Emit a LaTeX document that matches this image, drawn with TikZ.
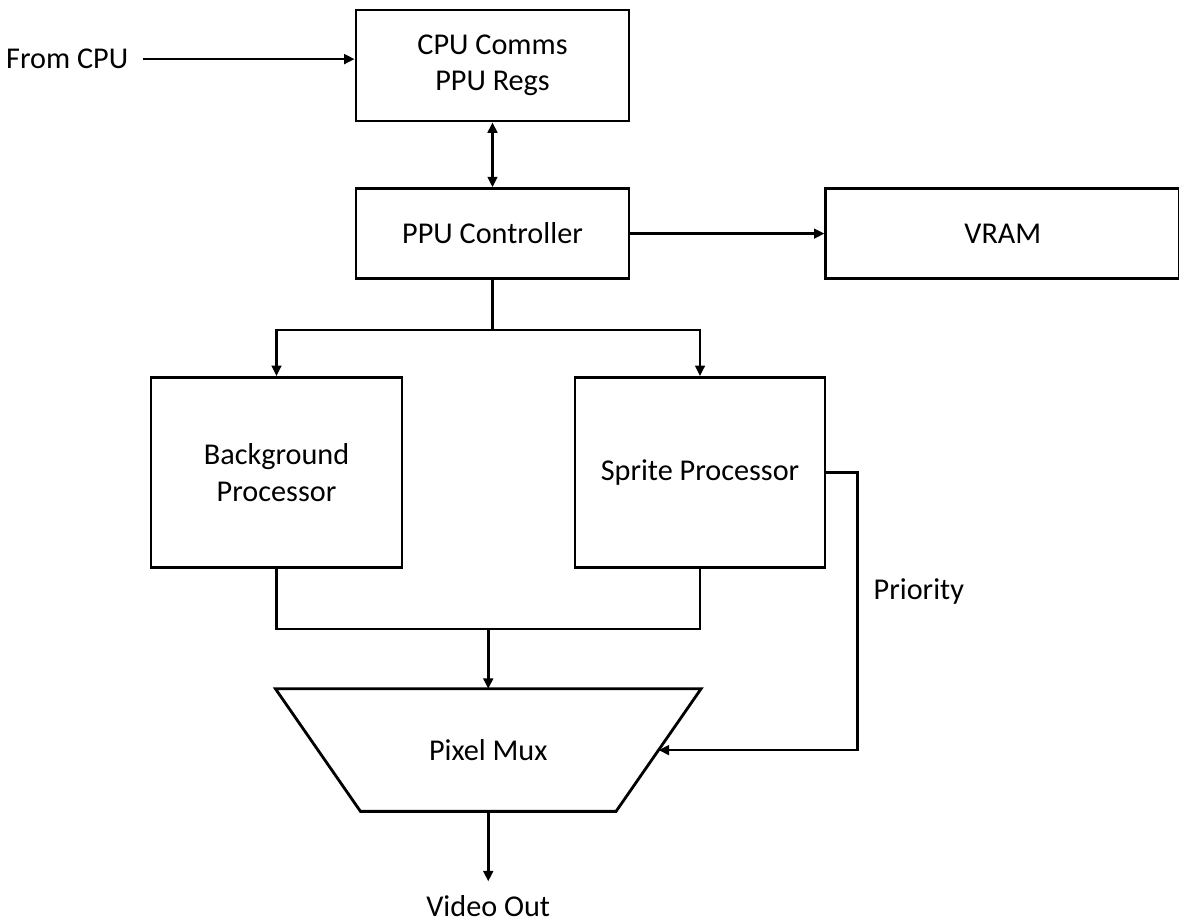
\documentclass[tikz,border=0pt]{standalone}
\usepackage{fontspec}
\setmainfont{Carlito}
\usetikzlibrary{
  arrows.meta,
  positioning,
  calc,
  shapes.geometric
}

\begin{document}
\begin{tikzpicture}[
    every node/.style={font=\fontsize{21.5}{26}\selectfont},
    >={Triangle[length=2.6mm,width=2.4mm]},
    box/.style={
      draw,
      line width=2pt,
      align=center,
      minimum width=68.25mm,
      minimum height=22.5mm
    },
    muxbox/.style={
      inner sep=0pt,
      minimum width=106.25mm,
      minimum height=30.5mm
    },
    lbl/.style={inner sep=0pt, outer sep=3.6mm},
    wire/.style={line width=1.8pt},
    ar/.style={->, line width=1.8pt}
  ]
    \useasboundingbox (0,0) rectangle (29.475,-23.1);

    % top chain: From CPU -> CPU Comms <-> PPU Controller -> VRAM
    \node[box, minimum height=27.75mm] (cpu) at (12.3125,-1.6375) {CPU Comms\\PPU Regs};
    \node[box, below=1.62cm of cpu] (ppu) {PPU Controller};
    \node[box, right=4.85cm of ppu, minimum width=88.5mm] (vram) {VRAM};
    \node[lbl, left=5.3cm of cpu, yshift=1.6mm] (fromcpu) {From CPU};

    \draw[ar] (fromcpu.east) -- (fromcpu.east -| cpu.west);
    \draw[ar, <->] (cpu) -- (ppu);
    \draw[ar] (ppu) -- (vram);

    % middle row: background and sprite processors
    \node[box, below=24mm of ppu, xshift=-54mm,
      minimum width=62.75mm, minimum height=47.5mm] (bg) {Background\\Processor};
    \node[box, below=24mm of ppu, xshift=51.875mm,
      minimum width=62.5mm, minimum height=47.5mm] (spr) {Sprite Processor};

    \coordinate[below=12.5mm of ppu] (fork);
    \draw[wire] (ppu) -- (fork);
    \draw[ar] (fork) -| (bg);
    \draw[ar] (fork) -| (spr);

    % bottom: both outputs into the pixel mux
    \coordinate (join) at ($(bg.south)!0.5!(spr.south)+(0,-15mm)$);
    \node[muxbox, below=15mm of join] (mux) {Pixel Mux};
    \draw[line width=2pt] (mux.north west) -- (mux.north east)
      -- ([xshift=-21.25mm]mux.south east) -- ([xshift=21.25mm]mux.south west) -- cycle;
    \coordinate (muxin) at ($(mux.east)+(-10.6mm,0)$);
    \node[lbl, below=17.5mm of mux] (vid) {Video Out};

    \draw[wire] (bg) |- (join) -| (spr);
    \draw[ar] (join) -- (join |- mux.north);
    \draw[ar] (mux) -- (vid);

    % priority side path
    \coordinate[right=7.75mm of spr.east] (pturn);
    \draw[ar] (spr) -- (pturn) |- (muxin);
    \node[inner sep=0pt, anchor=base west] (prio) at ($(pturn)+(4mm,-31.75mm)$) {Priority};

  \end{tikzpicture}
\end{document}
